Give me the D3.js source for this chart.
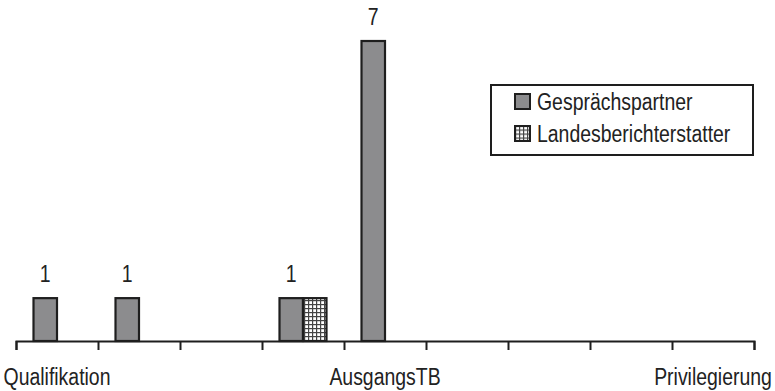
<!DOCTYPE html>
<html>
<head>
<meta charset="utf-8">
<script src="https://cdn.jsdelivr.net/npm/d3@7"></script>
<style>
  html, body { margin: 0; padding: 0; background: #fff; }
  svg text { font-family: "Liberation Sans Narrow", "Arial Narrow", "Liberation Sans", Arial, sans-serif; fill: #222; }
</style>
</head>
<body>
<svg id="chart" width="775" height="391"></svg>
<script>
// Categories along the x axis (only every fourth name is printed)
const categoryIds = [0, 1, 2, 3, 4, 5, 6, 7, 8];
const tickLabels = ["Qualifikation", "", "", "", "AusgangsTB", "", "", "", "Privilegierung"];
const seriesNames = ["Gesprächspartner", "Landesberichterstatter"];
const gespraechspartner = [1, 1, 0, 1, 7, 0, 0, 0, 0];
const landesberichterstatter = [0, 0, 0, 1, 0, 0, 0, 0, 0];
const yMax = 7;

const svg = d3.select("#chart");
const left = 16, right = 754, baseY = 341, topY = 41;
const fontSize = 24;
// narrow text: squeeze horizontally when no narrow face is installed
const narrow = "scale(0.81,1)";

const defs = svg.append("defs");
const pat = defs.append("pattern")
  .attr("id", "grid").attr("patternUnits", "userSpaceOnUse")
  .attr("width", 4).attr("height", 4);
pat.append("rect").attr("width", 4).attr("height", 4).attr("fill", "#fff");
pat.append("rect").attr("x", 0).attr("y", 0).attr("width", 1.2).attr("height", 4).attr("fill", "#444");
pat.append("rect").attr("x", 0).attr("y", 0).attr("width", 4).attr("height", 1.2).attr("fill", "#444");

const x = d3.scaleBand().domain(categoryIds).range([left, right]).paddingInner(0).paddingOuter(0);
const xSub = d3.scaleBand().domain(seriesNames).range([0, x.bandwidth()]).paddingInner(0).paddingOuter(0.745);
const y = d3.scaleLinear().domain([0, yMax]).range([baseY, topY]);

const fills = { "Gesprächspartner": "#8c8c8e", "Landesberichterstatter": "url(#grid)" };
const seriesData = { "Gesprächspartner": gespraechspartner, "Landesberichterstatter": landesberichterstatter };

const rows = [];
seriesNames.forEach(s => {
  seriesData[s].forEach((v, i) => { if (v > 0) rows.push({ s, i, v }); });
});

svg.append("g").selectAll("rect").data(rows).join("rect")
  .attr("x", d => x(d.i) + xSub(d.s))
  .attr("y", d => y(d.v))
  .attr("width", xSub.bandwidth())
  .attr("height", d => y(0) - y(d.v))
  .attr("fill", d => fills[d.s])
  .attr("stroke", "#1e1e1e").attr("stroke-width", 2.2);

// value labels for the first series
svg.append("g").selectAll("text").data(rows.filter(d => d.s === seriesNames[0])).join("text")
  .attr("transform", d => `translate(${x(d.i) + xSub(d.s) + xSub.bandwidth() / 2},${y(d.v) - 16}) ${narrow}`)
  .attr("text-anchor", "middle")
  .attr("font-size", fontSize)
  .text(d => d.v);

// axis with ticks on category boundaries
const xEdge = d3.scaleLinear().domain([0, categoryIds.length]).range([left, right]);
const edgeAxis = svg.append("g").attr("transform", `translate(0,${baseY})`)
  .call(d3.axisBottom(xEdge).tickValues(d3.range(0, categoryIds.length + 1)).tickFormat("").tickSize(9).tickSizeOuter(9));
edgeAxis.selectAll("path, line").attr("stroke", "#1e1e1e").attr("stroke-width", 2);

const labelAxis = svg.append("g").attr("transform", `translate(0,${baseY})`)
  .call(d3.axisBottom(x).tickSize(0).tickPadding(27).tickFormat(i => tickLabels[i]));
labelAxis.select(".domain").remove();
labelAxis.selectAll("text").attr("font-size", fontSize).attr("font-family", null)
  .attr("fill", "#222").attr("transform", narrow);

// legend
const lg = svg.append("g");
lg.append("rect").attr("x", 491).attr("y", 85).attr("width", 262).attr("height", 70)
  .attr("fill", "#fff").attr("stroke", "#1e1e1e").attr("stroke-width", 2);
const item = lg.selectAll("g.item").data(seriesNames).join("g").attr("class", "item")
  .attr("transform", (d, i) => `translate(515,${101.5 + i * 32})`);
item.append("rect").attr("x", 0).attr("y", -7.5).attr("width", 15).attr("height", 15)
  .attr("fill", d => fills[d]).attr("stroke", "#1e1e1e").attr("stroke-width", 2);
item.append("text").attr("transform", `translate(22,0) ${narrow}`).attr("dy", "0.35em")
  .attr("font-size", fontSize).text(d => d);
</script>
</body>
</html>
